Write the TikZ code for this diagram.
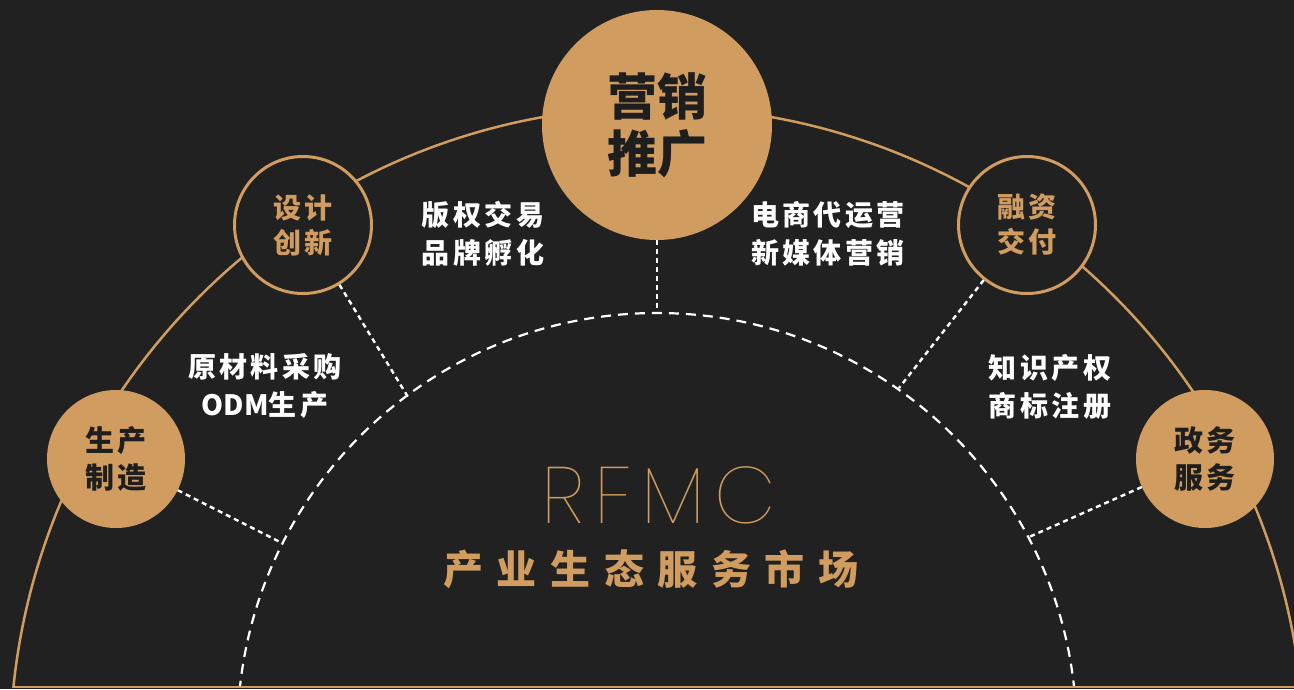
\documentclass[tikz,border=0pt]{standalone}
\usepackage{fontspec}
\newfontfamily\cjk{Noto Sans CJK SC}
\newfontfamily\cjkmid{Noto Sans CJK SC}[LetterSpace=12]
\newfontfamily\cjkwide{Noto Sans CJK SC}[LetterSpace=34]
\IfFontExistsTF{Poppins Thin}{\newfontfamily\rfmcfont{Poppins Thin}[LetterSpace=12]}{%
  \IfFontExistsTF{Poppins ExtraLight}{\newfontfamily\rfmcfont{Poppins ExtraLight}[LetterSpace=12]}{%
    \IfFontExistsTF{Poppins Light}{\newfontfamily\rfmcfont{Poppins Light}[LetterSpace=12]}{\newfontfamily\rfmcfont{Poppins}[LetterSpace=12]}}}
\definecolor{bg}{HTML}{212121}
\definecolor{gold}{HTML}{D09C5F}
\definecolor{darktext}{HTML}{1E1E1E}
\begin{document}
\begin{tikzpicture}[x=1pt,y=-1pt,
  goldline/.style={draw=gold, line width=2.5pt},
  dotconn/.style={draw=white, line width=2.4pt, dash pattern=on 5pt off 4pt},
  dasharc/.style={draw=white, line width=2.2pt, dash pattern=on 10pt off 7pt},
  fillcirc/.style={circle, fill=gold, draw=none, inner sep=0pt, align=center, text=darktext},
  ringcirc/.style={circle, fill=bg, draw=gold, line width=3pt, inner sep=0pt, align=center, text=gold},
  wtext/.style={text=white, align=center, font=\cjkmid\bfseries\fontsize{28}{38}\selectfont}]
\fill[bg] (0,0) rectangle (1294,689);
\useasboundingbox (0,0) rectangle (1294,689);
\begin{scope}
  \clip (0,0) rectangle (1294,687);
  \draw[goldline] (657,754) circle[radius=647];
  \draw[dasharc] (657,732.5) circle[radius=419.5];
\end{scope}
\draw[goldline] (13,687) -- (1294,687);

\coordinate (pa) at (657,313);
\coordinate (pb) at (408,397);
\coordinate (pc) at (282,543);
\coordinate (pd) at (899,388);
\coordinate (pe) at (1029,537);

\node[fillcirc, minimum size=230pt, font=\cjk\bfseries\fontsize{50}{57}\selectfont] (mk) at (657,125) {营销\\推广};
\node[ringcirc, minimum size=137pt, font=\cjkmid\bfseries\fontsize{28}{35}\selectfont] (sj) at (303,225) {设计\\创新};
\node[ringcirc, minimum size=137pt, font=\cjkmid\bfseries\fontsize{28}{35}\selectfont] (rz) at (1027,225) {融资\\交付};
\node[fillcirc, minimum size=138pt, font=\cjkmid\bfseries\fontsize{29}{37}\selectfont] (sc) at (116,459) {生产\\制造};
\node[fillcirc, minimum size=138pt, font=\cjkmid\bfseries\fontsize{29}{37}\selectfont] (zw) at (1205,459) {政务\\服务};

\draw[dotconn] (mk) -- (pa);
\draw[dotconn] (sj) -- (pb);
\draw[dotconn] (sc) -- (pc);
\draw[dotconn] (rz) -- (pd);
\draw[dotconn] (zw) -- (pe);

\node[wtext] (t1) at (483,234) {版权交易\\品牌孵化};
\node[wtext] (t2) at (828,234) {电商代运营\\新媒体营销};
\node[wtext] (t3) at (265,386) {原材料采购\\{\cjk\bfseries ODM}生产};
\node[wtext] (t4) at (1050,387) {知识产权\\商标注册};

\node[text=gold, font=\rfmcfont\fontsize{80}{80}\selectfont, anchor=base, inner sep=0pt] (rf) at (659,523) {RFMC};
\node[text=gold, font=\cjkwide\bfseries\fontsize{40}{40}\selectfont, inner sep=0pt] (cy) at (651,569) {产业生态服务市场};
\end{tikzpicture}
\end{document}
